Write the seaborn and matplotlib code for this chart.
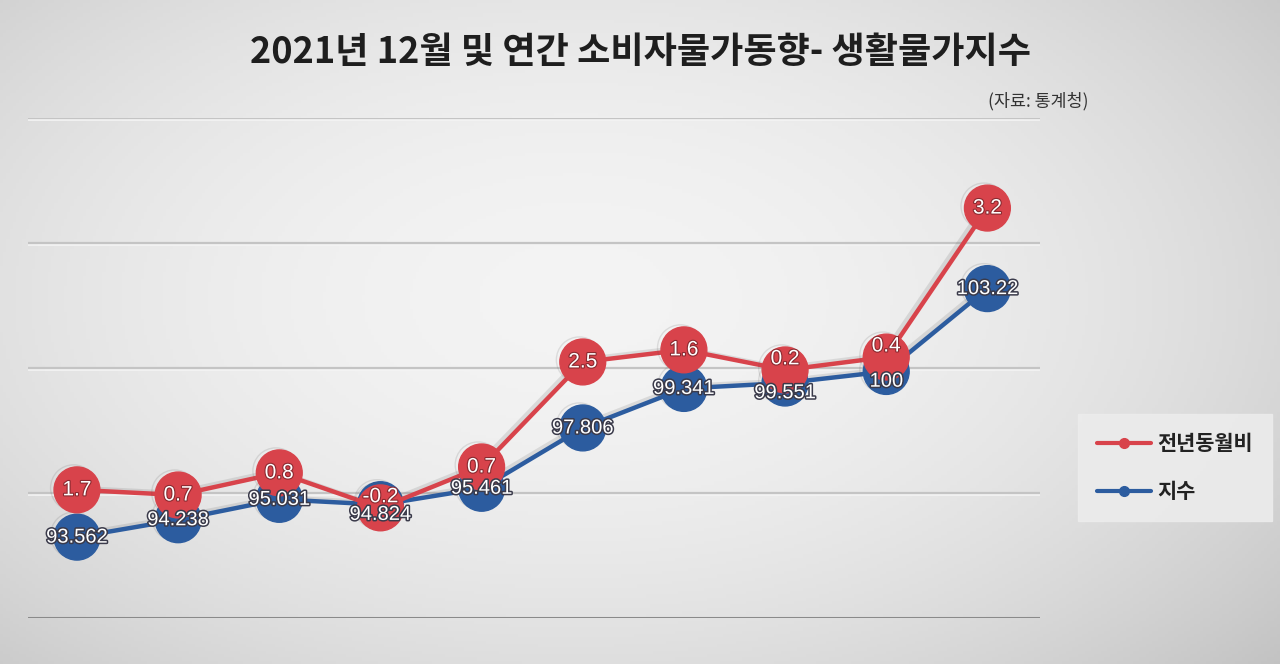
import numpy as np
import pandas as pd
import matplotlib
matplotlib.use("Agg")
import matplotlib.pyplot as plt
import matplotlib.patheffects as pe
from matplotlib.lines import Line2D
import seaborn as sns

# ---------------- data ----------------
months = ["P1", "P2", "P3", "P4", "P5", "P6", "P7", "P8", "P9", "P10"]
index_values = [93.562, 94.238, 95.031, 94.824, 95.461, 97.806, 99.341, 99.551, 100.0, 103.22]
index_labels = ["93.562", "94.238", "95.031", "94.824", "95.461", "97.806", "99.341", "99.551", "100", "103.22"]
yoy_labels = ["1.7", "0.7", "0.8", "-0.2", "0.7", "2.5", "1.6", "0.2", "0.4", "3.2"]
# vertical level at which the red series is drawn in the picture (on the index scale)
yoy_plot_level = [95.40, 95.20, 96.06, 94.70, 96.29, 100.37, 100.84, 100.06, 100.56, 106.35]

series_names = ["전년동월비", "지수"]
title_text = "2021년 12월 및 연간 소비자물가동향- 생활물가지수"
source_text = "(자료: 통계청)"

RED = "#d8434b"
BLUE = "#2c5c9f"

sns.set_theme(style="white")
plt.rcParams["font.family"] = ["Noto Sans CJK KR", "DejaVu Sans"]

W, H = 1280, 664
fig = plt.figure(figsize=(W / 100, H / 100), dpi=100)

# gradient background
bg = fig.add_axes([0, 0, 1, 1], zorder=-10)
yy, xx = np.mgrid[0:1:200j, 0:1:400j]
r = np.sqrt(((xx - 0.45) / 0.75) ** 2 + ((yy - 0.45) / 0.85) ** 2)
val = 0.955 - 0.20 * np.clip(r, 0, 1.2) ** 2
bg.imshow(np.dstack([val, val, val]), extent=[0, 1, 0, 1], aspect="auto", origin="upper")
bg.axis("off")

ax = fig.add_axes([28 / W, 46 / H, (1040 - 28) / W, 500 / H])
ax.patch.set_alpha(0)

df = pd.DataFrame({
    "x": np.arange(len(months)),
    "month": months,
    "index": index_values,
    "yoy_level": yoy_plot_level,
})

ymin, ymax = 90.42, 109.85
ax.set_ylim(ymin, ymax)
ax.set_xlim(-0.484, 9.52)
grid_vals = np.linspace(ymin, ymax, 5)
for i, g in enumerate(grid_vals):
    if i == 0:
        ax.axhline(g, color="#8a8a8a", lw=2.2, zorder=1)
    else:
        ax.axhline(g, color="#c4c4c4", lw=1.6, zorder=1)
        ax.axhline(g - 0.08, color="#f4f4f4", lw=1.2, zorder=0.9)

shadow = [pe.SimpleLineShadow(offset=(-2.5, 1.5), shadow_color="#555555", alpha=0.15), pe.Normal()]

sns.lineplot(data=df, x="x", y="index", ax=ax, color=BLUE, lw=3.2, marker="o",
             markersize=33, markeredgecolor=BLUE, markeredgewidth=1.0, zorder=3,
             path_effects=shadow, legend=False)
sns.lineplot(data=df, x="x", y="yoy_level", ax=ax, color=RED, lw=3.2, marker="o",
             markersize=33, markeredgecolor=RED, markeredgewidth=1.0, zorder=4,
             path_effects=shadow, legend=False)

crowded = {3, 7, 8}
lab_fx = [pe.withStroke(linewidth=2.2, foreground="#3a3a4a")]
for i, (xi, yv, t) in enumerate(zip(df["x"], index_values, index_labels)):
    dy = -7 if i in crowded else 0
    ax.annotate(t, (xi, yv), xytext=(0, dy), textcoords="offset points", color="white",
                fontsize=14.5, ha="center", va="center",
                family=["Liberation Sans", "DejaVu Sans"], zorder=6, path_effects=lab_fx)
lab_fx_r = [pe.withStroke(linewidth=1.6, foreground="#8a2a30")]
for i, (xi, yv, t) in enumerate(zip(df["x"], yoy_plot_level, yoy_labels)):
    dy = 8 if i in crowded else 0
    ax.annotate(t, (xi, yv), xytext=(0, dy), textcoords="offset points", color="white",
                fontsize=15, ha="center", va="center",
                family=["Liberation Sans", "DejaVu Sans"], zorder=7, path_effects=lab_fx_r)

ax.set_xticks([])
ax.set_yticks([])
ax.set_xlabel("")
ax.set_ylabel("")
for s in ax.spines.values():
    s.set_visible(False)

# title & source
fig.text(640 / W, 1 - 52 / H, title_text, ha="center", va="center", fontsize=26,
         fontweight="bold", color="#1e1e1e")
fig.text(1088 / W, 1 - 101 / H, source_text, ha="right", va="center", fontsize=12.5,
         fontweight="medium", color="#333333")

# legend
handles = [
    Line2D([0], [0], color=RED, lw=3, marker="o", markersize=7),
    Line2D([0], [0], color=BLUE, lw=3, marker="o", markersize=7),
]
leg = fig.legend(handles, series_names, loc="upper left", bbox_to_anchor=(1068 / W, 1 - 404 / H),
                 frameon=True, fontsize=15, handlelength=2.6, labelspacing=1.3,
                 borderpad=0.9, handletextpad=0.3, fancybox=False)
leg.get_frame().set_facecolor("#ececec")
leg.get_frame().set_edgecolor("#ececec")
leg.get_frame().set_alpha(0.9)
for t in leg.get_texts():
    t.set_fontweight("bold")
    t.set_color("#222222")

fig.savefig("out.png", dpi=100)
